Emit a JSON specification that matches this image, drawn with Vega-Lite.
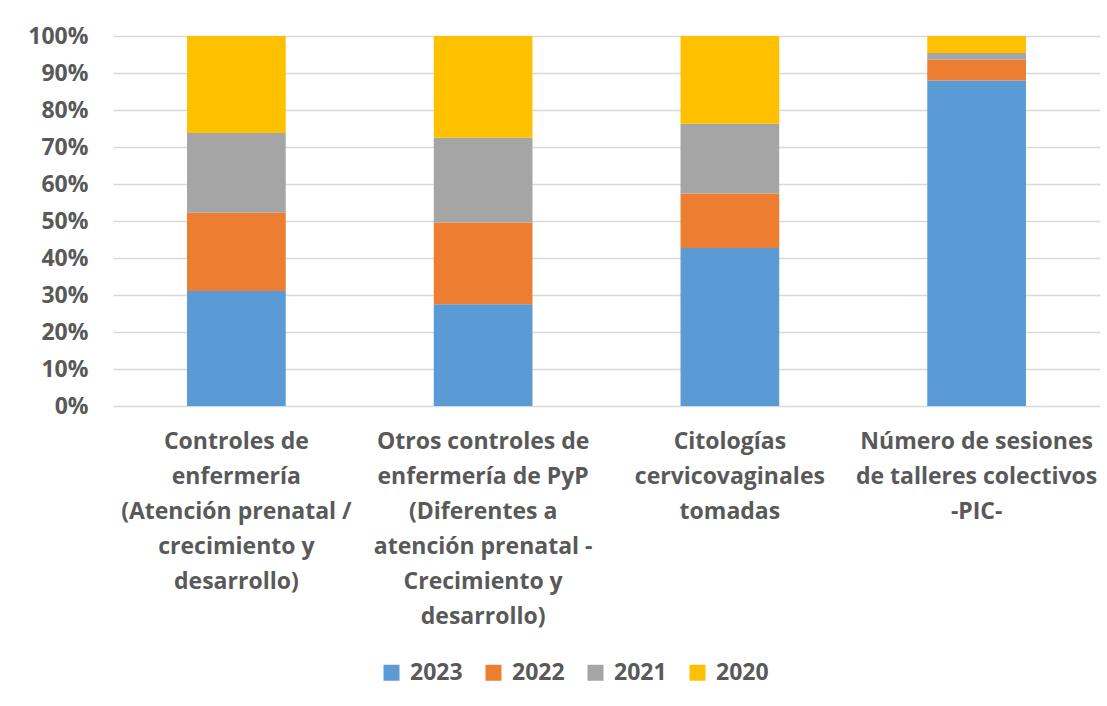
{
  "$schema": "https://vega.github.io/schema/vega-lite/v6.json",
  "autosize": {"type": "none"},
  "width": 987,
  "height": 370,
  "padding": {"left": 113, "top": 36, "right": 7, "bottom": 300},
  "background": "white",
  "config": {"view": {"stroke": null}, "font": "Open Sans"},
  "data": {
    "values": [
      {"cat": "Controles de|enfermería|(Atención prenatal /|crecimiento y|desarrollo)", "year": "2023", "value": 31.1},
      {"cat": "Controles de|enfermería|(Atención prenatal /|crecimiento y|desarrollo)", "year": "2022", "value": 21.1},
      {"cat": "Controles de|enfermería|(Atención prenatal /|crecimiento y|desarrollo)", "year": "2021", "value": 21.6},
      {"cat": "Controles de|enfermería|(Atención prenatal /|crecimiento y|desarrollo)", "year": "2020", "value": 26.2},
      {"cat": "Otros controles de|enfermería de PyP|(Diferentes a|atención prenatal -|Crecimiento y|desarrollo)", "year": "2023", "value": 27.5},
      {"cat": "Otros controles de|enfermería de PyP|(Diferentes a|atención prenatal -|Crecimiento y|desarrollo)", "year": "2022", "value": 22.1},
      {"cat": "Otros controles de|enfermería de PyP|(Diferentes a|atención prenatal -|Crecimiento y|desarrollo)", "year": "2021", "value": 22.9},
      {"cat": "Otros controles de|enfermería de PyP|(Diferentes a|atención prenatal -|Crecimiento y|desarrollo)", "year": "2020", "value": 27.5},
      {"cat": "Citologías|cervicovaginales|tomadas", "year": "2023", "value": 42.7},
      {"cat": "Citologías|cervicovaginales|tomadas", "year": "2022", "value": 14.7},
      {"cat": "Citologías|cervicovaginales|tomadas", "year": "2021", "value": 18.9},
      {"cat": "Citologías|cervicovaginales|tomadas", "year": "2020", "value": 23.7},
      {"cat": "Número de sesiones|de talleres colectivos|-PIC-", "year": "2023", "value": 88.0},
      {"cat": "Número de sesiones|de talleres colectivos|-PIC-", "year": "2022", "value": 5.6},
      {"cat": "Número de sesiones|de talleres colectivos|-PIC-", "year": "2021", "value": 1.8},
      {"cat": "Número de sesiones|de talleres colectivos|-PIC-", "year": "2020", "value": 4.6}
    ]
  },
  "mark": {"type": "bar"},
  "encoding": {
    "x": {
      "field": "cat", "type": "nominal", "sort": null, "title": null,
      "scale": {"paddingInner": 0.6, "paddingOuter": 0.3},
      "axis": {
        "labelExpr": "split(datum.label, '|')",
        "labelAngle": 0, "labelFontSize": 23, "labelFontWeight": "bold",
        "labelColor": "#595959", "labelLineHeight": 35, "labelPadding": 24,
        "ticks": false, "domain": false, "labelLimit": 300
      }
    },
    "y": {
      "field": "value", "type": "quantitative", "stack": "normalize", "title": null,
      "scale": {"domain": [0, 1]},
      "axis": {
        "values": [0, 0.1, 0.2, 0.3, 0.4, 0.5, 0.6, 0.7, 0.8, 0.9, 1],
        "format": ".0%", "labelFontSize": 23, "labelFontWeight": "bold",
        "labelColor": "#595959", "labelPadding": 25, "ticks": false, "domain": false,
        "gridColor": "#d9d9d9", "gridWidth": 1.5
      }
    },
    "color": {
      "field": "year", "type": "nominal",
      "sort": ["2023", "2022", "2021", "2020"],
      "scale": {"domain": ["2023", "2022", "2021", "2020"], "range": ["#5B9BD5", "#ED7D31", "#A5A5A5", "#FFC000"]},
      "legend": {
        "title": null, "orient": "none", "direction": "horizontal",
        "legendX": 267, "legendY": 625,
        "symbolType": "square", "symbolSize": 256, "symbolStrokeWidth": 0,
        "labelFontSize": 23, "labelFontWeight": "bold", "labelColor": "#595959",
        "columnPadding": 19, "labelOffset": 7
      }
    }
  }
}
